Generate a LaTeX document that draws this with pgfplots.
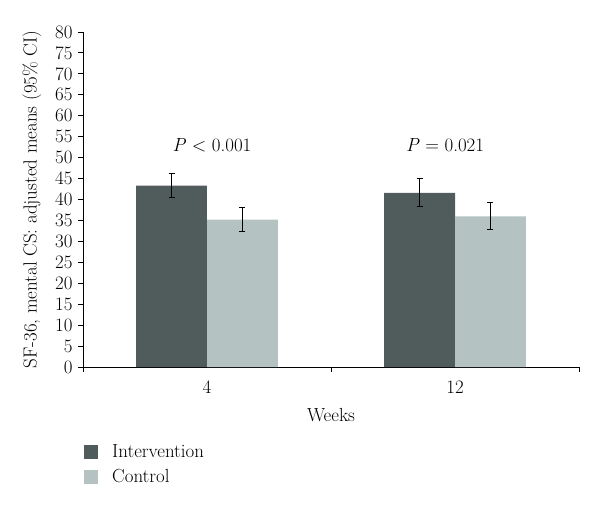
\documentclass[border=0pt]{standalone}
\usepackage{fontspec}
\usepackage{pgfplots}
\pgfplotsset{compat=1.18}
\definecolor{interv}{HTML}{4F5C5B}
\definecolor{ctrl}{HTML}{B4C2C1}
\begin{document}
\fontsize{19}{22}\selectfont
\begin{tikzpicture}
\path (-83bp,-143bp) rectangle (517bp,367bp);
\begin{axis}[
  at={(0,0)}, anchor=south west,
  scale only axis, width=496bp, height=335bp,
  xmin=-0.5, xmax=1.5, ymin=0, ymax=80,
  ytick={0,5,...,80},
  xtick={0,1}, xticklabels={4,12},
  /pgf/number format/assume math mode=true,
  major x tick style={draw=none},
  minor xtick={-0.5,0.5,1.5},
  minor tick length=5bp,
  major tick length=5bp,
  tick align=outside,
  axis lines*=left,
  axis line style={line width=1pt, black},
  tick style={line width=1pt, black},
  ylabel={SF-36, mental CS: adjusted means (95\% CI)},
  xlabel={Weeks},
  ylabel style={at={(axis description cs:-0.103,0.5)}, anchor=center},
  xlabel style={at={(axis description cs:0.5,-0.143)}, anchor=center},
  yticklabel style={xshift=1bp},
  xticklabel style={anchor=center, yshift=-15bp},
  ybar=0pt, bar width=0.286,
  error bars/y dir=both, error bars/y explicit,
  error bars/error bar style={line width=1.2pt, black},
  error bars/error mark options={rotate=90, mark size=3bp, line width=1.2pt, black},
  legend style={at={(rel axis cs:0.002,-0.225)}, anchor=north west, draw=none, fill=none,
    row sep=5bp, cells={anchor=west}, inner sep=0pt},
  legend image code/.code={\fill[#1] (0bp,-7bp) rectangle (14bp,7bp); \path (26bp,0);},
]
\addplot[fill=interv, draw=none] coordinates {
  (0,43.3) +- (0,2.9)
  (1,41.6) +- (0,3.35)
};
\addlegendentry{Intervention}
\addplot[fill=ctrl, draw=none] coordinates {
  (0,35.2) +- (0,2.8)
  (1,36.0) +- (0,3.2)
};
\addlegendentry{Control}
\node at (axis cs:0.02,53) {\textit{P} < 0.001};
\node at (axis cs:0.96,53) {\textit{P} = 0.021};
\end{axis}
\end{tikzpicture}
\end{document}
